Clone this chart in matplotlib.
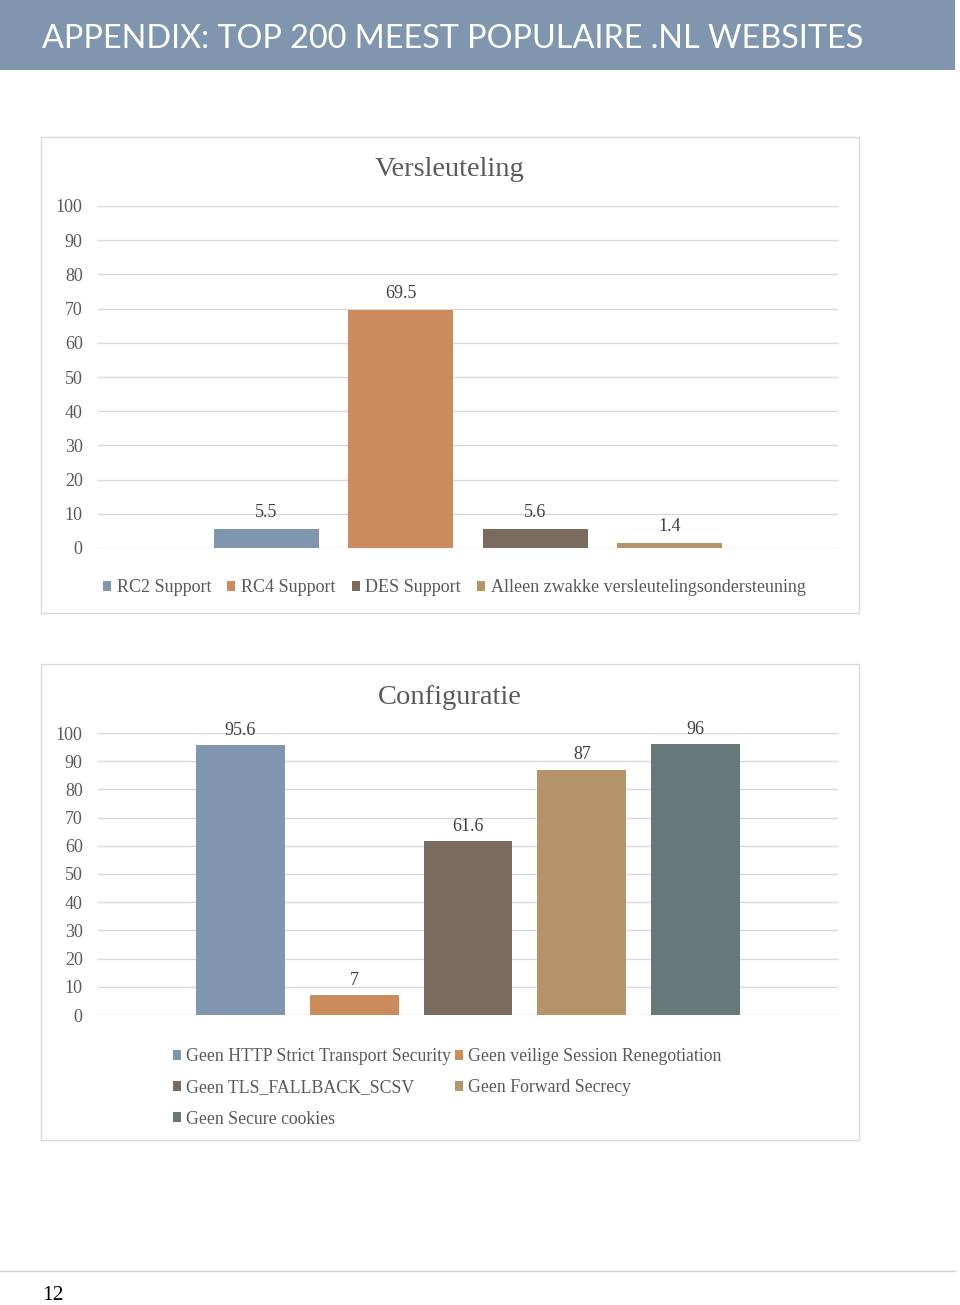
import matplotlib
matplotlib.use("Agg")
import matplotlib.pyplot as plt
from matplotlib.patches import Rectangle, Patch

# data
enc_labels = ["RC2 Support", "RC4 Support", "DES Support",
              "Alleen zwakke versleutelingsondersteuning"]
enc_values = [5.5, 69.5, 5.6, 1.4]
enc_text = ["5.5", "69.5", "5.6", "1.4"]
enc_colors = ["#7F96AE", "#CC8B5C", "#7B6A5E", "#B5946A"]

cfg_labels = ["Geen HTTP Strict Transport Security", "Geen veilige Session Renegotiation",
              "Geen TLS_FALLBACK_SCSV", "Geen Forward Secrecy", "Geen Secure cookies"]
cfg_values = [95.6, 7, 61.6, 87, 96]
cfg_text = ["95.6", "7", "61.6", "87", "96"]
cfg_colors = ["#7F96AE", "#CC8B5C", "#7B6A5E", "#B5946A", "#67787A"]

yticks = list(range(0, 101, 10))

W, H = 960, 1305
SERIF = "Liberation Serif"
GRAY = "#595959"

fig = plt.figure(figsize=(W / 100, H / 100), dpi=100)


def fx(x):
    return x / W


def fy(y):
    return 1 - y / H


def box(x0, y0, x1, y1, **kw):
    fig.patches.append(Rectangle((fx(x0), fy(y1)), fx(x1 - x0), (y1 - y0) / H,
                                 transform=fig.transFigure, **kw))


# header band
box(0, 0, 955, 70, facecolor="#7F96AE", edgecolor="none")
fig.text(fx(42), fy(39), "APPENDIX: TOP 200 MEEST POPULAIRE .NL WEBSITES",
         color="white", fontsize=23.3, family="Lato", va="center", ha="left")

# chart frames
box(41, 137, 859, 613, facecolor="none", edgecolor="#D9D9D9", linewidth=1)
box(41, 664, 859, 1140, facecolor="none", edgecolor="#D9D9D9", linewidth=1)


def bar_chart(top, bottom, values, texts, colors, title, title_y):
    ax = fig.add_axes([fx(98), fy(bottom), fx(838 - 98), (bottom - top) / H])
    n = len(values)
    xs = list(range(n))
    ax.bar(xs, values, width=0.78, color=colors, zorder=3)
    for x, v, t in zip(xs, values, texts):
        ax.text(x, v + 2.3, t, ha="center", va="bottom", fontsize=13,
                color="#404040", family=SERIF)
    ax.set_xlim(-1.25, n + 0.25)
    ax.set_ylim(0, 100)
    ax.set_yticks(yticks)
    ax.set_xticks([])
    ax.grid(axis="y", color="#D9D9D9", linewidth=1, zorder=0)
    for s in ax.spines.values():
        s.set_visible(False)
    ax.tick_params(axis="y", length=0, pad=11, labelsize=13, labelcolor=GRAY)
    for lab in ax.get_yticklabels():
        lab.set_family(SERIF)
    fig.text(fx(450), fy(title_y), title, ha="center", va="center",
             fontsize=20.5, color=GRAY, family=SERIF)
    return ax


ax1 = bar_chart(206, 548, enc_values, enc_text, enc_colors, "Versleuteling", 170)
ax2 = bar_chart(733, 1015, cfg_values, cfg_text, cfg_colors, "Configuratie", 697)

h1 = [Patch(facecolor=c, edgecolor="none") for c in enc_colors]
fig.legend(h1, enc_labels, loc="center left", bbox_to_anchor=(fx(103), fy(588)),
           ncol=4, frameon=False, handlelength=0.45, handleheight=0.45,
           handletextpad=0.3, columnspacing=0.9, borderpad=0, borderaxespad=0,
           prop={"family": SERIF, "size": 13}, labelcolor=GRAY)

order = [0, 2, 4, 1, 3]
h2 = [Patch(facecolor=cfg_colors[i], edgecolor="none") for i in order]
fig.legend(h2, [cfg_labels[i] for i in order], loc="center left",
           bbox_to_anchor=(fx(173), fy(1088)), ncol=2, frameon=False,
           handlelength=0.45, handleheight=0.45, handletextpad=0.3,
           columnspacing=0.2, labelspacing=0.79, borderpad=0, borderaxespad=0,
           prop={"family": SERIF, "size": 12.8}, labelcolor=GRAY)

# footer
fig.add_artist(plt.Line2D([0, fx(955)], [fy(1271), fy(1271)], color="#D0D0D0",
                          linewidth=1, transform=fig.transFigure))
fig.text(fx(53), fy(1295), "12", ha="center", va="center", fontsize=15.5,
         color="black", family=SERIF)

fig.savefig("out.png", dpi=100)
